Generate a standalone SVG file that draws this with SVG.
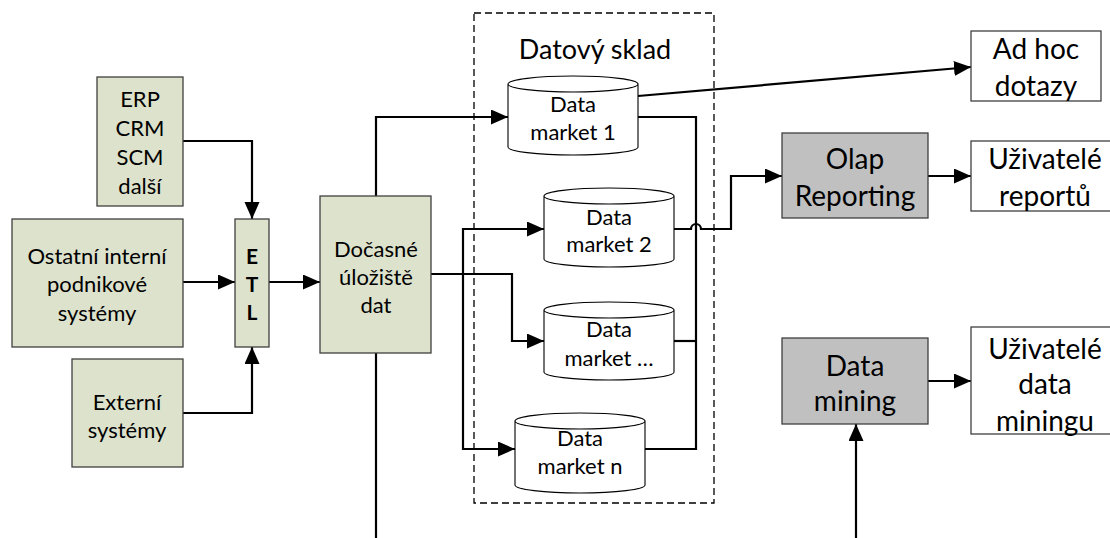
<svg xmlns="http://www.w3.org/2000/svg" width="1110" height="538" viewBox="0 0 1110 538">
<style>
text{font-family:Lato,"Liberation Sans",sans-serif;fill:#000;text-anchor:middle;dominant-baseline:central}
.g{fill:#dde2cc;stroke:#404040;stroke-width:1.3}
.gr{fill:#c0c0c0;stroke:#404040;stroke-width:1.3}
.w{fill:#fff;stroke:#404040;stroke-width:1.3}
.cyl{fill:#fff;stroke:#000;stroke-width:1.1}
.s{font-size:22px}
.m{font-size:22px}
.l{font-size:28px}
.b{font-size:21px;font-weight:bold}
.c{fill:none;stroke:#000;stroke-width:2.2}
</style>
<defs>
<marker id="a" markerUnits="userSpaceOnUse" markerWidth="18" markerHeight="16" refX="17" refY="7.5" orient="auto">
<path d="M0,0 L17,7.5 L0,15 z" fill="#000"/>
</marker>
</defs>
<rect x="474" y="13" width="240" height="490" fill="none" stroke="#000" stroke-width="1.3" stroke-dasharray="7,4"/>
<text x="595" y="48" style="font-size:27px">Datový sklad</text>
<g id="connectors">
<path class="c" d="M183,141 H252 V219" marker-end="url(#a)"/>
<path class="c" d="M183,282 H235" marker-end="url(#a)"/>
<path class="c" d="M183,413 H252 V347" marker-end="url(#a)"/>
<path class="c" d="M269,282 H320" marker-end="url(#a)"/>
<path class="c" d="M376,196 V117 H508" marker-end="url(#a)"/>
<path class="c" d="M376,353 V538"/>
<path class="c" d="M431,274 H512 V341 H544" marker-end="url(#a)"/>
<path class="c" d="M544,229 H463 V449 H515" marker-end="url(#a)"/>
<path class="c" d="M463,229 H544" marker-end="url(#a)"/>
<path class="c" d="M638,117 H696 V449 H645"/>
<path class="c" d="M674,341 H696"/>
<path class="c" d="M674,229 H691 A5,5 0 0 1 701,229 H731 V176 H782" marker-end="url(#a)"/>
<path class="c" d="M638,96 L971,67" marker-end="url(#a)"/>
<path class="c" d="M928,176 H971" marker-end="url(#a)"/>
<path class="c" d="M928,381 H971" marker-end="url(#a)"/>
<path class="c" d="M856,538 V424" marker-end="url(#a)"/>
</g>
<g id="erp">
<rect class="g" x="97" y="77" width="86" height="129"/>
<text class="s" x="140" y="98">ERP</text>
<text class="s" x="140" y="127">CRM</text>
<text class="s" x="140" y="156">SCM</text>
<text class="s" x="140" y="185">další</text>
</g>
<g id="ostatni">
<rect class="g" x="12" y="219" width="171" height="128"/>
<text class="s" x="97" y="255">Ostatní interní</text>
<text class="s" x="97" y="283">podnikové</text>
<text class="s" x="97" y="312">systémy</text>
</g>
<g id="externi">
<rect class="g" x="72" y="359" width="111" height="108"/>
<text class="s" x="127" y="401">Externí</text>
<text class="s" x="127" y="429">systémy</text>
</g>
<g id="etl">
<rect class="g" x="235" y="219" width="34" height="128"/>
<text class="b" x="252" y="255">E</text>
<text class="b" x="252" y="283">T</text>
<text class="b" x="252" y="311">L</text>
</g>
<g id="docasne">
<rect class="g" x="320" y="196" width="111" height="157"/>
<text class="s" x="376" y="248">Dočasné</text>
<text class="s" x="376" y="276">úložiště</text>
<text class="s" x="376" y="304">dat</text>
</g>
<g id="dm1">
<path class="cyl" d="M508,84 V147 A65,8 0 0 0 638,147 V84 A65,8 0 0 0 508,84 A65,8 0 0 0 638,84"/>
<text class="m" x="573" y="103">Data</text>
<text class="m" x="573" y="131">market 1</text>
</g>
<g id="dm2">
<path class="cyl" d="M544,196 V259 A65,8 0 0 0 674,259 V196 A65,8 0 0 0 544,196 A65,8 0 0 0 674,196"/>
<text class="m" x="609" y="216">Data</text>
<text class="m" x="609" y="243">market 2</text>
</g>
<g id="dm3">
<path class="cyl" d="M544,310 V372 A65,8 0 0 0 674,372 V310 A65,8 0 0 0 544,310 A65,8 0 0 0 674,310"/>
<text class="m" x="609" y="328">Data</text>
<text class="m" x="609" y="357">market …</text>
</g>
<g id="dmn">
<path class="cyl" d="M515,421 V485 A65,8 0 0 0 645,485 V421 A65,8 0 0 0 515,421 A65,8 0 0 0 645,421"/>
<text class="m" x="580" y="437">Data</text>
<text class="m" x="580" y="465">market n</text>
</g>
<g id="adhoc">
<rect class="w" x="971" y="31" width="130" height="70"/>
<text class="l" x="1036" y="48">Ad hoc</text>
<text class="l" x="1036" y="85">dotazy</text>
</g>
<g id="olap">
<rect class="gr" x="782" y="133" width="146" height="85"/>
<text class="l" x="855" y="158">Olap</text>
<text class="l" x="855" y="195">Reporting</text>
</g>
<g id="reporty">
<rect class="w" x="971" y="141" width="150" height="70"/>
<text class="l" x="1045" y="158">Uživatelé</text>
<text class="l" x="1045" y="195">reportů</text>
</g>
<g id="mining">
<rect class="gr" x="782" y="338" width="146" height="86"/>
<text class="l" x="855" y="365">Data</text>
<text class="l" x="855" y="400">mining</text>
</g>
<g id="miningusers">
<rect class="w" x="971" y="327" width="150" height="107"/>
<text class="l" x="1045" y="348">Uživatelé</text>
<text class="l" x="1045" y="383">data</text>
<text class="l" x="1045" y="420">miningu</text>
</g>
</svg>
